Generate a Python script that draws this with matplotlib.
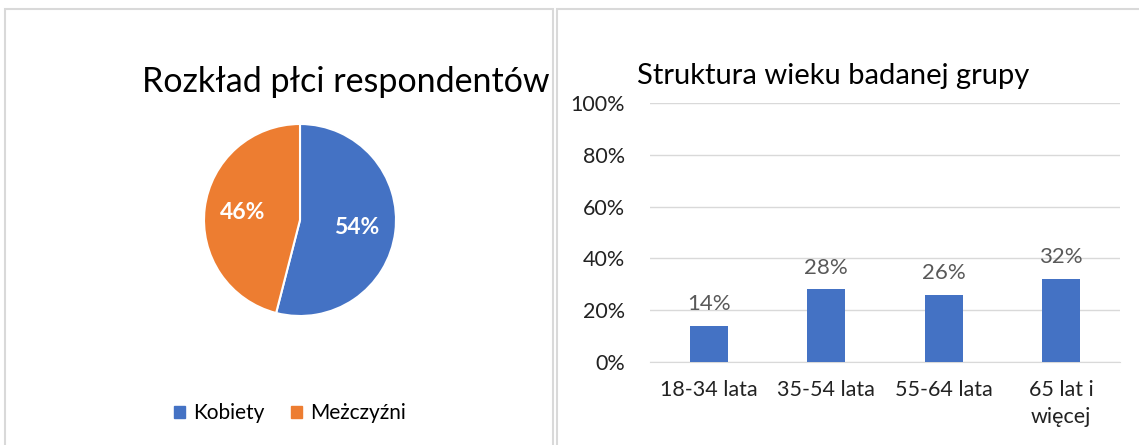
import numpy as np
import matplotlib
matplotlib.use("Agg")
import matplotlib.pyplot as plt
from matplotlib.patches import Rectangle

plt.rcParams['font.family'] = ['Lato', 'DejaVu Sans']

# data
plec_labels = ["Kobiety", "Meżczyźni"]
plec_values = [54, 46]
plec_colors = ["#4472C4", "#ED7D31"]

wiek_labels = ["18-34 lata", "35-54 lata", "55-64 lata", "65 lat i\nwięcej"]
wiek_values = [14, 28, 26, 32]

W, H = 1139, 445
fig = plt.figure(figsize=(W / 100, H / 100), dpi=100)

def fx(px):
    return px / W

def fy(py):
    return 1 - py / H

# panel borders
for x0, x1 in [(5, 553), (557, 1145)]:
    fig.patches.append(Rectangle((fx(x0), fy(460)), fx(x1 - x0), (460 - 9) / H,
                                 transform=fig.transFigure, fill=False,
                                 edgecolor="#d9d9d9", lw=1.5))

# pie
r = 96
axp = fig.add_axes([fx(300 - r), fy(220 + r), fx(2 * r), 2 * r / H])
wedges, _ = axp.pie(plec_values, colors=plec_colors, startangle=90, counterclock=False,
                    wedgeprops=dict(edgecolor="white", linewidth=1.5))
axp.set_aspect("auto")
axp.set_xlim(-1, 1)
axp.set_ylim(-1, 1)
# labels in the wedges
cum = 0
for v, w in zip(plec_values, wedges):
    mid = np.deg2rad(90 - (cum + v / 2) * 3.6)
    axp.text(0.6 * np.cos(mid), 0.6 * np.sin(mid), f"{v}%", ha="center", va="center",
             color="white", fontsize=16.5, fontweight="bold")
    cum += v

fig.text(fx(346), fy(82), "Rozkład płci respondentów", ha="center", va="center",
         fontsize=24.5, color="black")

# legend
handles = [Rectangle((0, 0), 1, 1, color=c) for c in plec_colors]
fig.legend(handles, plec_labels, loc="center", bbox_to_anchor=(fx(290), fy(413)),
           ncol=2, frameon=False, fontsize=15, handlelength=0.5, handleheight=0.5,
           handletextpad=0.4, columnspacing=1.3)

# bar chart
axb = fig.add_axes([fx(650), fy(362), fx(470), (362 - 103) / H])
x = np.arange(len(wiek_values))
bars = axb.bar(x, wiek_values, width=0.32, color="#4472C4", zorder=3)
axb.set_xlim(-0.5, len(wiek_values) - 0.5)
axb.set_ylim(0, 100)
axb.set_yticks(np.arange(0, 101, 20))
axb.set_yticklabels([f"{v}%" for v in range(0, 101, 20)])
axb.set_xticks(x)
axb.set_xticklabels(wiek_labels, linespacing=1.45)
axb.grid(axis="y", color="#d9d9d9", lw=1, zorder=0)
for s in ["top", "right", "left"]:
    axb.spines[s].set_visible(False)
axb.spines["bottom"].set_color("#d9d9d9")
axb.tick_params(axis="both", length=0, labelsize=15.5, colors="#222222")
axb.tick_params(axis="y", pad=18)
axb.tick_params(axis="x", pad=13)
for xi, v in zip(x, wiek_values):
    axb.text(xi, v + 4.5, f"{v}%", ha="center", va="bottom", fontsize=16, color="#595959")

fig.text(fx(637), fy(76), "Struktura wieku badanej grupy", ha="left", va="center",
         fontsize=21, color="black")

fig.savefig("out.png", dpi=100)
